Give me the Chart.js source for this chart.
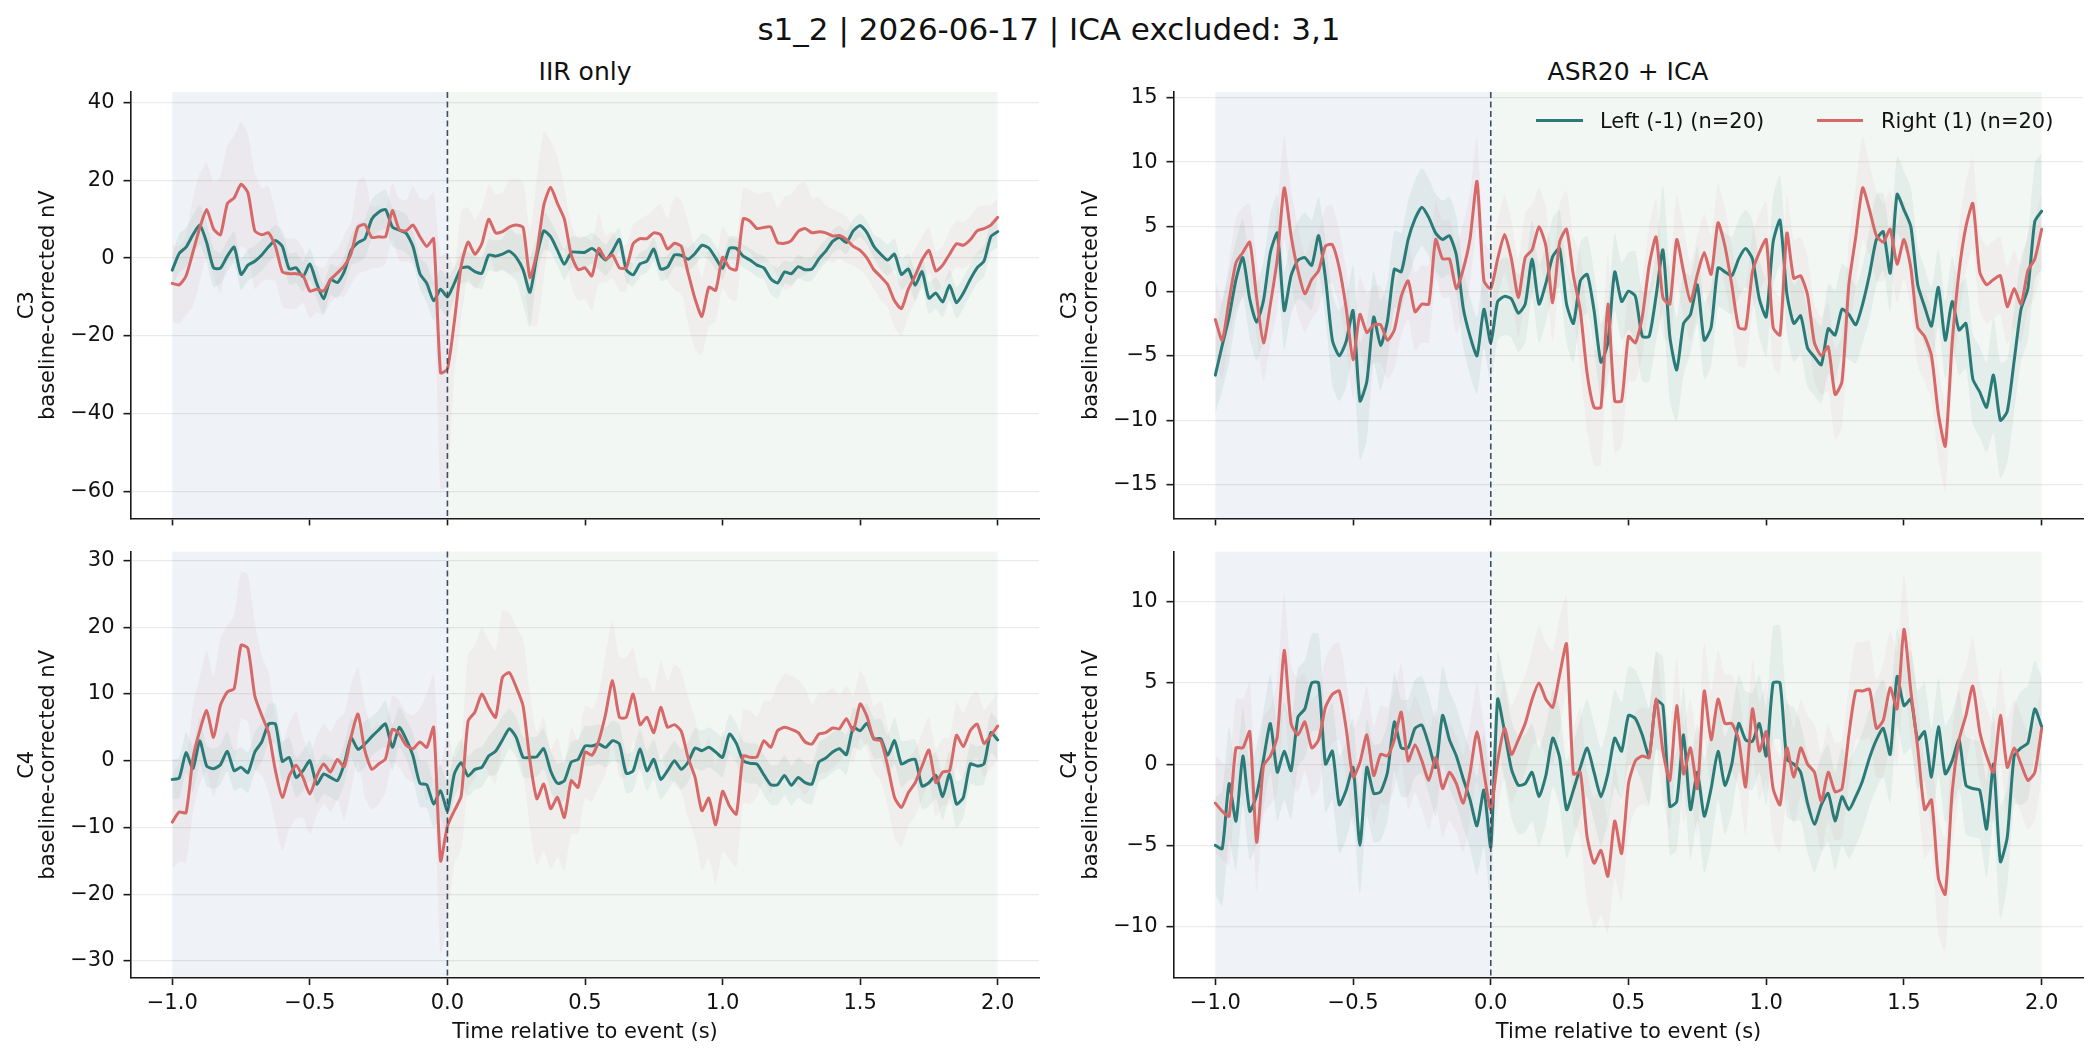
<!DOCTYPE html>
<html>
<head>
<meta charset="utf-8">
<title>s1_2 | 2026-06-17 | ICA excluded: 3,1</title>
<script src="https://cdn.jsdelivr.net/npm/chart.js@4.4.1/dist/chart.umd.min.js"></script>
<style>
  body { margin: 0; background: #fff; }
  #fig { position: relative; width: 2098px; height: 1058px; overflow: hidden;
         font-family: 'DejaVu Sans', sans-serif; color: #111; }
  .txt { position: absolute; white-space: nowrap; line-height: 1; }
  .center { transform: translateX(-50%); }
  .key { position: absolute; height: 0; border-top: 3px solid; }
  canvas { position: absolute; }
</style>
</head>
<body>
<div id="fig">
  <div class="txt center" style="left:1049px;top:14px;font-size:31px">s1_2 | 2026-06-17 | ICA excluded: 3,1</div>
  <div class="txt center" style="left:585px;top:59px;font-size:25px">IIR only</div>
  <div class="txt center" style="left:1628px;top:59px;font-size:25px">ASR20 + ICA</div>

  <canvas id="c3iir" width="1060" height="480" style="left:0;top:60px"></canvas>
  <canvas id="c3asr" width="1055" height="480" style="left:1043px;top:60px"></canvas>
  <canvas id="c4iir" width="1060" height="528" style="left:0;top:530px"></canvas>
  <canvas id="c4asr" width="1055" height="528" style="left:1043px;top:530px"></canvas>

  <div class="key" style="left:1536px;top:119.2px;width:47px;border-color:#2a7a78"></div>
  <div class="txt" style="left:1600px;top:110.6px;font-size:21px">Left (-1) (n=20)</div>
  <div class="key" style="left:1817px;top:119.2px;width:46px;border-color:#d66868"></div>
  <div class="txt" style="left:1881px;top:110.6px;font-size:21px">Right (1) (n=20)</div>
</div>

<script>
// time axis (s), one sample every 25 ms
const times = [
  -1, -0.975, -0.95, -0.925, -0.9, -0.875, -0.85, -0.825, -0.8, -0.775,
  -0.75, -0.725, -0.7, -0.675, -0.65, -0.625, -0.6, -0.575, -0.55, -0.525,
  -0.5, -0.475, -0.45, -0.425, -0.4, -0.375, -0.35, -0.325, -0.3, -0.275,
  -0.25, -0.225, -0.2, -0.175, -0.15, -0.125, -0.1, -0.075, -0.05, -0.025,
  0, 0.025, 0.05, 0.075, 0.1, 0.125, 0.15, 0.175, 0.2, 0.225,
  0.25, 0.275, 0.3, 0.325, 0.35, 0.375, 0.4, 0.425, 0.45, 0.475,
  0.5, 0.525, 0.55, 0.575, 0.6, 0.625, 0.65, 0.675, 0.7, 0.725,
  0.75, 0.775, 0.8, 0.825, 0.85, 0.875, 0.9, 0.925, 0.95, 0.975,
  1, 1.025, 1.05, 1.075, 1.1, 1.125, 1.15, 1.175, 1.2, 1.225,
  1.25, 1.275, 1.3, 1.325, 1.35, 1.375, 1.4, 1.425, 1.45, 1.475,
  1.5, 1.525, 1.55, 1.575, 1.6, 1.625, 1.65, 1.675, 1.7, 1.725,
  1.75, 1.775, 1.8, 1.825, 1.85, 1.875, 1.9, 1.925, 1.95, 1.975,
  2
];
const baselineWindow = [-1, 0];
const responseWindow = [0, 2];
const eventTime = 0;
const xRange = [-1.15, 2.15];
const xLabel = 'Time relative to event (s)';
const yLabel = 'baseline-corrected nV';

// C3, IIR only
const c3IirLeft = [
  -3.1, 1.2, 2.8, 6.0, 8.5, 4.0, -2.5, -2.6, 0.5, 2.8,
  -4.2, -1.8, -0.8, 0.8, 2.9, 4.5, 3.0, -2.8, -2.5, -4.8,
  -1.5, -6.5, -10.5, -5.5, -6.3, -3.5, 2.0, 4.0, 5.0, 10.0,
  11.8, 12.5, 8.0, 7.2, 6.4, 3.0, -4.0, -6.5, -11.0, -8.0,
  -10.0, -6.5, -2.6, -2.3, -3.5, -3.9, 0.8, 0.5, 1.0, 1.8,
  0.2, -3.0, -8.8, 0.5, 7.0, 5.5, 2.0, -1.6, 1.5, 1.5,
  1.5, 2.5, 1.2, -0.5, 1.8, 4.8, -3.0, -4.3, -1.5, -0.8,
  2.3, -2.8, -2.3, 0.8, 0.7, -0.3, 1.2, 3.3, 2.6, 0.0,
  -2.6, 2.5, 2.5, 0.5, -0.5, -1.8, -2.5, -5.3, -6.4, -3.6,
  -4.0, -2.2, -3.0, -2.8, -0.2, 1.8, 4.3, 5.3, 4.0, 7.0,
  8.4, 6.5, 3.0, 1.0, -0.5, 1.0, -4.2, -2.8, -7.0, -3.5,
  -10.3, -9.0, -11.3, -7.0, -11.5, -9.0, -5.5, -2.5, -0.8, 5.5,
  6.8
];
const c3IirRight = [
  -6.5, -6.9, -4.6, 1.5, 7.8, 12.5, 7.5, 6.0, 14.0, 15.5,
  19.0, 16.8, 7.0, 6.0, 6.5, 3.0, -3.5, -4.0, -4.0, -4.5,
  -8.5, -8.0, -8.5, -5.5, -3.8, -2.0, 1.2, 8.0, 8.6, 5.3,
  5.5, 5.5, 12.2, 7.3, 7.0, 8.5, 5.5, 3.0, 5.0, -29.5,
  -28.5, -16.4, -2.0, 4.1, 1.0, 3.7, 10.0, 6.5, 6.8, 8.0,
  8.5, 7.9, -5.0, 1.5, 13.5, 18.2, 14.0, 10.0, 0.8, -3.0,
  -2.5, -4.6, 2.5, -0.3, 0.8, -2.5, -2.5, 3.7, 5.0, 5.0,
  6.5, 6.0, 2.3, 3.8, 3.0, -3.9, -10.5, -15.0, -7.5, -8.3,
  0.2, -2.5, -3.0, 10.1, 9.5, 7.6, 7.9, 8.0, 4.0, 3.8,
  4.5, 6.9, 7.6, 6.5, 6.8, 6.5, 5.7, 5.8, 4.8, 3.0,
  2.0, 0.0, -3.0, -4.8, -6.8, -11.0, -13.0, -8.0, -4.5, -0.5,
  2.0, -3.3, -1.8, 1.0, 3.7, 3.3, 4.7, 7.0, 7.6, 8.5,
  10.5
];

// C3, ASR20 + ICA
const c3AsrLeft = [
  -6.5, -4.2, -2.0, 0.9, 2.6, -0.6, -2.4, -0.7, 3.0, 4.5,
  -1.5, 1.2, 2.4, 2.6, 2.0, 4.3, 1.0, -3.8, -5.0, -3.9,
  -1.5, -8.5, -7.0, -2.0, -4.2, -2.3, 1.7, 1.5, 4.0, 5.6,
  6.5, 5.7, 4.5, 4.0, 4.3, 2.8, -1.3, -3.5, -5.0, -1.4,
  -4.0, -0.8, -0.4, -0.6, -1.7, -1.0, 2.5, -1.0, 0.6, 2.7,
  3.3, -1.0, -2.5, 0.8, 1.3, -1.5, -5.5, -4.0, 1.5, -0.8,
  0.0, -0.4, -3.5, -3.5, -0.4, 3.2, -3.5, -6.1, -2.5, -1.8,
  0.5, -3.8, -2.8, 1.8, 1.5, 1.2, 2.5, 3.3, 2.5, -0.6,
  -2.0, 3.8, 5.5, -0.2, -2.5, -1.9, -4.4, -5.1, -5.7, -2.9,
  -3.4, -1.4, -1.8, -2.6, -1.0, 1.3, 4.0, 4.6, 1.4, 7.5,
  6.3, 5.0, 0.5, -1.2, -2.7, 0.3, -3.8, -0.8, -3.0, -2.5,
  -6.8, -7.8, -9.0, -6.5, -10.0, -9.3, -5.4, -1.4, 0.2, 5.4,
  6.2
];
const c3AsrRight = [
  -2.2, -3.8, -0.7, 2.2, 3.0, 3.8, -0.5, -4.0, -1.0, 2.5,
  8.0, 4.3, 1.6, -0.2, 0.9, 1.6, 3.5, 3.6, 1.8, -1.3,
  -5.3, -1.8, -3.2, -2.6, -2.6, -3.8, -3.0, -0.4, 0.8, -1.6,
  -1.0, -1.0, 4.0, 2.5, 2.5, 0.2, 1.7, 4.1, 8.5, 0.8,
  0.2, 2.5, 4.4, 2.5, -0.5, 2.6, 3.2, 5.0, 3.5, -0.9,
  3.8, 4.8, 1.2, -1.5, -6.4, -9.0, -9.0, -1.0, -8.5, -8.5,
  -3.5, -4.0, -2.0, 2.0, 4.2, -0.5, -1.0, 4.0, 1.5, -0.8,
  1.3, 3.0, 1.3, 5.3, 3.5, 0.5, -2.8, -2.9, 1.5, 3.0,
  4.0, -2.8, -3.4, 4.5, 1.0, 1.2, -0.3, -4.0, -5.0, -4.3,
  -8.0, -7.0, 0.5, 4.2, 8.0, 6.3, 4.3, 3.8, 4.8, 2.1,
  4.0, 1.8, -2.8, -3.5, -5.0, -9.5, -12.0, -4.0, 1.5, 5.0,
  6.8, 1.5, 0.5, 0.9, 1.2, -1.2, 0.2, -1.0, 1.6, 2.5,
  4.8
];

// C4, IIR only
const c4IirLeft = [
  -2.8, -2.6, 1.2, -1.2, 3.0, -0.8, -1.2, -0.6, 1.4, -1.5,
  -1.0, -1.8, 1.3, 2.8, 5.5, 5.5, -0.1, 0.5, -2.5, -1.5,
  0.0, -3.5, -2.0, -2.5, -3.0, -0.5, 3.4, 1.7, 2.5, 3.6,
  4.6, 5.5, 2.0, 5.0, 3.2, 0.7, -3.4, -3.6, -6.5, -4.5,
  -7.5, -2.0, -0.3, -2.3, -1.3, -1.0, 0.7, 1.4, 3.1, 4.8,
  3.5, 0.5, 0.5, 0.6, 1.8, -1.5, -3.4, -3.0, -0.2, 0.2,
  2.2, 2.2, 2.5, 2.0, 3.0, 2.5, -1.9, -1.5, 1.8, -1.5,
  0.2, -2.8, -1.5, 0.0, -1.3, -0.2, 1.9, 1.5, 2.0, 1.3,
  0.5, 4.0, 2.6, 0.0, -0.4, -0.5, -2.1, -3.6, -3.6, -2.2,
  -3.7, -2.5, -3.3, -3.5, -0.2, 0.4, 1.3, 1.8, 0.9, 5.0,
  4.5, 5.6, 3.3, 3.3, 0.8, 3.0, -0.5, 0.0, 0.2, -3.8,
  -3.3, -2.2, -5.4, -2.0, -6.5, -5.5, -0.5, -0.8, -0.5, 4.2,
  3.1
];
const c4IirRight = [
  -9.2, -7.7, -7.8, 0.3, 4.5, 7.5, 3.5, 8.3, 10.3, 10.8,
  17.3, 16.8, 9.7, 6.8, 4.2, -1.5, -5.5, -2.3, -0.7, -2.5,
  -5.0, -2.3, -0.5, -1.7, 0.2, -0.9, 3.6, 7.0, 1.5, -1.3,
  -0.5, 0.3, 4.7, 4.0, 2.3, 1.8, 2.8, 2.0, 5.0, -15.0,
  -9.8, -7.5, -5.3, 5.9, 7.3, 10.0, 8.0, 6.5, 12.5, 13.2,
  11.0, 8.2, 0.0, -5.7, -3.5, -7.2, -5.5, -8.5, -3.0, -4.0,
  1.3, 0.8, 3.0, 7.0, 12.0, 6.5, 6.5, 10.0, 5.4, 6.5,
  4.2, 8.0, 5.0, 5.4, 4.4, 0.4, -2.5, -7.5, -5.6, -9.6,
  -4.6, -6.8, -8.0, 0.7, 0.5, 0.6, 3.0, 2.0, 4.5, 5.0,
  4.7, 4.2, 2.8, 2.5, 4.0, 4.2, 4.9, 4.8, 6.3, 4.5,
  8.5, 6.6, 3.2, 3.0, -0.8, -5.5, -7.0, -4.8, -3.3, -0.8,
  1.6, -3.3, -1.7, -1.5, 3.8, 2.1, 4.5, 5.5, 2.6, 3.8,
  5.2
];

// C4, ASR20 + ICA
const c4AsrLeft = [
  -5.0, -5.2, -1.2, -3.5, 0.5, -2.9, -1.9, 0.3, 2.5, -0.5,
  0.8, -0.4, 2.9, 3.4, 5.0, 5.0, 0.0, 0.8, -2.5, -1.6,
  -0.2, -5.0, -0.2, -1.8, -1.7, -0.5, 2.6, 1.0, 1.0, 2.2,
  2.4, 1.2, -0.2, 3.0, 1.5, 0.5, -0.9, -2.2, -3.8, -1.6,
  -5.1, 4.0, 2.0, -0.3, -1.3, -1.2, -0.5, -2.0, -0.7, 1.6,
  0.4, -2.8, -1.6, -0.2, 1.0, -0.5, -2.0, -0.6, 1.6, 0.8,
  3.0, 2.8, 1.8, 0.5, 3.9, 3.6, -2.6, -2.3, 1.8, -2.8,
  -0.5, -3.2, -1.5, 0.8, -1.3, 0.0, 2.5, 1.5, 1.4, 2.5,
  0.5, 5.0, 5.0, 0.3, 0.0, -0.5, -2.4, -3.7, -2.5, -1.8,
  -3.5, -2.0, -2.8, -2.0, -1.0, 0.4, 1.5, 2.2, 0.6, 5.4,
  3.6, 4.0, 1.5, 2.0, -0.8, 2.3, -0.6, 0.2, 1.5, -1.3,
  -1.5, -1.6, -4.0, 0.0, -6.0, -4.5, 0.5, 1.0, 1.3, 3.4,
  2.3
];
const c4AsrRight = [
  -2.4, -2.9, -3.2, 1.0, 1.0, 2.0, -4.8, -0.1, 0.5, 1.7,
  7.0, 2.5, 1.8, 2.6, 1.0, 1.5, 3.5, 4.3, 4.5, 2.2,
  -0.8, 0.1, 1.8, -0.7, 0.6, 0.5, 1.5, 3.2, 0.2, 1.2,
  0.2, -1.0, 0.4, -1.5, -0.5, -1.2, -2.4, -0.5, 2.0, -0.5,
  -2.8, 0.2, 2.2, 0.6, 1.5, 2.5, 4.0, 5.0, 4.0, 3.5,
  5.5, 7.4, -0.6, -0.5, -4.5, -6.1, -5.3, -6.9, -3.5, -5.5,
  -1.2, 0.2, 0.5, 0.4, 4.0, 0.8, -1.0, 3.6, -0.6, 1.0,
  -1.5, 4.5, 1.5, 4.0, 2.5, 2.5, 1.5, -1.4, 3.4, 0.8,
  2.0, -1.5, -2.5, 1.0, -0.8, 1.0, 0.0, -0.5, -2.3, -0.5,
  -1.7, -1.5, 1.8, 4.5, 4.5, 4.6, 2.2, 2.7, 4.7, 3.4,
  8.3, 4.5, 1.0, -2.8, -2.2, -7.0, -8.0, -1.7, 1.5, 3.0,
  4.8, 2.0, 0.5, -0.5, 3.0, -0.2, 1.0, 0.0, -1.0, -0.5,
  2.2
];

// standard error half-widths, one value per 50 ms
const c3IirLeftSem = [4,5,5,5,4,4,4,4,4,4, 4,4,4,4,5,5,5,5,4,5, 5,4,4,4,4,6,9,5,4,4, 4,4,4,3,3,3,3,3,3,3, 3,3,3,3,4,3,3,3,3,3, 3,3,4,4,4,4,4,4,4,4, 4];
const c3IirRightSem = [10,10,14,12,15,16,15,12,9,9, 7,6,6,8,12,8,7,8,10,12, 30,14,9,9,10,12,12,19,12,8, 8,9,6,6,5,6,8,12,13,10, 8,8,8,9,9,12,12,9,7,6, 5,5,6,7,7,6,5,6,6,6, 5];
const c3AsrLeftSem = [3,3.5,3,3,3,3,3,3.5,3,3.5, 3.5,4.5,3.5,3,3,3,3,3,3,3, 3,3,3,3,3,3,3,3,3,3, 3,3.5,3.5,5,4,3,3,3,3,3, 3,3.5,3,3,3,3.5,3.5,3,3.5,3, 3,3,3,3,3.5,3.5,3.5,4.5,4,4, 4.5];
const c3AsrRightSem = [3,3,3.5,3,3,4,3.5,3,3,3, 3,3,3,3,3,3,3,3,3.5,3.5, 3,3,3,3.5,3,3,3,4.5,4.5,4, 3.5,3,3,3,3.5,3,3,3,3,3, 3,3,3,3,3,3.5,3.5,4,3.5,3, 3,3,3.5,3.5,3.5,3.5,3,3,3,3, 3];
const c4IirLeftSem = [3,3,3.5,3,3,3,3,3,3,3, 3,3,3,3,3.5,3,3.5,3,3.5,3.5, 4,3.5,3,3,3.5,3,3,3,3,3, 3,3,3,3,3,3,3,3,3,3, 3,3,3,3,3,3,3,3,3,3, 3,3,3,3.5,3,3.5,3.5,3.5,3,3, 3];
const c4IirRightSem = [7,7.5,8,9,10,11,11,9,8,8, 6,6,6,8,7,6,5,5,5,8, 14,8,10,10,10,9,10,10,9,8, 7,7,9,9,7,6,7,9,9,9, 9,8,7,6,7,8,8,6,6,5, 5,5,6,6,5,5,5,5,5,5, 5];
const c4AsrLeftSem = [3,3.5,3,3,3,3,3,3,3,3, 3,3,3,3,3,3,3,3,3,3, 3.5,3,3,3,3,3,3,3,3,3, 3,3,3,3,3,3,3.5,3,3,3, 3,3.5,3.5,3,3,3,3,3,3,3, 3,3,3,3,3,3,3,3.5,3,3.5, 3];
const c4AsrRightSem = [3,3,3,3,3,3.5,3.5,3,3,3, 3,3,3,3,3,3,3,3,3,3, 3,3,3,3,3.5,3.5,3,4,4,3.5, 3,3,3,3,3,3,3,3,3,3, 3,3,3,3,3,3,3,3,3,3.5, 3.5,3,3,3.5,3.5,3,3,3,3,3, 3];

const LEFT_COLOR = '#2a7a78';
const RIGHT_COLOR = '#d66868';
const LEFT_BAND = 'rgba(42,122,120,0.08)';
const RIGHT_BAND = 'rgba(200,110,120,0.06)';
const BASELINE_FILL = '#eff2f6';
const RESPONSE_FILL = '#f3f7f4';
const AXIS_INK = '#1a1a1a';

Chart.defaults.font.family = "'DejaVu Sans', sans-serif";
Chart.defaults.font.size = 21;
Chart.defaults.color = '#111';

const withMinus = v => (v < 0 ? '\u2212' + Math.abs(v) : String(v));
const timeLabel = v => (v < 0 ? '\u2212' : '') + Math.abs(v).toFixed(1);

// baseline / response shading and the event marker
const windowShading = {
  id: 'windowShading',
  beforeDraw(chart) {
    const { ctx, chartArea: a, scales: { x } } = chart;
    const h = a.bottom - a.top;
    ctx.save();
    const b0 = x.getPixelForValue(baselineWindow[0]);
    const b1 = x.getPixelForValue(baselineWindow[1]);
    ctx.fillStyle = BASELINE_FILL;
    ctx.fillRect(b0, a.top, b1 - b0, h);
    const r0 = x.getPixelForValue(responseWindow[0]);
    const r1 = x.getPixelForValue(responseWindow[1]);
    ctx.fillStyle = RESPONSE_FILL;
    ctx.fillRect(r0, a.top, r1 - r0, h);
    ctx.restore();
  },
  afterDatasetsDraw(chart) {
    const { ctx, chartArea: a, scales: { x } } = chart;
    const px = x.getPixelForValue(eventTime);
    ctx.save();
    ctx.strokeStyle = '#3f4d63';
    ctx.lineWidth = 1.6;
    ctx.setLineDash([6, 3.5]);
    ctx.beginPath();
    ctx.moveTo(px, a.top);
    ctx.lineTo(px, a.bottom);
    ctx.stroke();
    ctx.restore();
  }
};

const points = mean => mean.map((v, i) => ({ x: times[i], y: v }));
const bandEdge = (mean, sem, sign) =>
  mean.map((v, i) => ({ x: times[i], y: v + sign * sem[Math.round(i / 2)] }));

function drawPanel(p) {
  const bandStyle = { borderWidth: 0, borderColor: 'transparent', pointRadius: 0, tension: 0.2 };
  const lineStyle = { borderWidth: 3, pointRadius: 0, fill: false, tension: 0.2,
                      borderJoinStyle: 'round', borderCapStyle: 'round' };
  new Chart(document.getElementById(p.canvas), {
    type: 'line',
    data: {
      datasets: [
        { ...bandStyle, data: bandEdge(p.left, p.leftSem, 1), fill: '+1', backgroundColor: LEFT_BAND, order: 3 },
        { ...bandStyle, data: bandEdge(p.left, p.leftSem, -1), fill: false, order: 3 },
        { ...bandStyle, data: bandEdge(p.right, p.rightSem, 1), fill: '+1', backgroundColor: RIGHT_BAND, order: 2 },
        { ...bandStyle, data: bandEdge(p.right, p.rightSem, -1), fill: false, order: 2 },
        { ...lineStyle, label: 'Left (-1) (n=20)', data: points(p.left), borderColor: LEFT_COLOR, order: 1 },
        { ...lineStyle, label: 'Right (1) (n=20)', data: points(p.right), borderColor: RIGHT_COLOR, order: 0 }
      ]
    },
    options: {
      responsive: false,
      animation: false,
      events: [],
      layout: { padding: { top: p.padTop, right: p.padRight, bottom: 0, left: 0 } },
      plugins: { legend: { display: false }, tooltip: { enabled: false } },
      scales: {
        x: {
          type: 'linear', min: xRange[0], max: xRange[1],
          afterFit: s => { s.height = p.xHeight; },
          ticks: { stepSize: 0.5, includeBounds: false, padding: 6, maxRotation: 0, autoSkip: false,
                   callback: v => (p.showX ? timeLabel(v) : '') },
          grid: { drawOnChartArea: false, tickLength: 7, tickColor: AXIS_INK, tickWidth: 1.6 },
          border: { color: AXIS_INK, width: 1.6 },
          title: { display: p.showX, text: xLabel, padding: { top: 0, bottom: 13 },
                   font: { size: 21, lineHeight: 1.2 } }
        },
        y: {
          min: p.yMin, max: p.yMax,
          afterFit: s => { s.width = 131; },
          ticks: { stepSize: p.yStep, includeBounds: false, padding: 9, callback: v => withMinus(v) },
          grid: { color: 'rgba(0,0,0,0.08)', lineWidth: 1.3, tickLength: 7.5, tickColor: AXIS_INK, tickWidth: 1.6 },
          border: { color: AXIS_INK, width: 1.6 },
          title: { display: true, text: [p.channel, yLabel], padding: { top: 17, bottom: 0 },
                   font: { size: 21, lineHeight: 0.986 } }
        }
      }
    },
    plugins: [windowShading]
  });
}

drawPanel({ canvas: 'c3iir', channel: 'C3', left: c3IirLeft, right: c3IirRight,
  leftSem: c3IirLeftSem, rightSem: c3IirRightSem, yMin: -66.95, yMax: 42.72, yStep: 20,
  padTop: 32, padRight: 21, xHeight: 17, showX: false });
drawPanel({ canvas: 'c3asr', channel: 'C3', left: c3AsrLeft, right: c3AsrRight,
  leftSem: c3AsrLeftSem, rightSem: c3AsrRightSem, yMin: -17.6, yMax: 15.43, yStep: 5,
  padTop: 32, padRight: 15, xHeight: 17, showX: false });
drawPanel({ canvas: 'c4iir', channel: 'C4', left: c4IirLeft, right: c4IirRight,
  leftSem: c4IirLeftSem, rightSem: c4IirRightSem, yMin: -32.56, yMax: 31.33, yStep: 10,
  padTop: 16, padRight: 21, xHeight: 80, showX: true });
drawPanel({ canvas: 'c4asr', channel: 'C4', left: c4AsrLeft, right: c4AsrRight,
  leftSem: c4AsrLeftSem, rightSem: c4AsrRightSem, yMin: -13.16, yMax: 13.08, yStep: 5,
  padTop: 16, padRight: 15, xHeight: 80, showX: true });
</script>
</body>
</html>
